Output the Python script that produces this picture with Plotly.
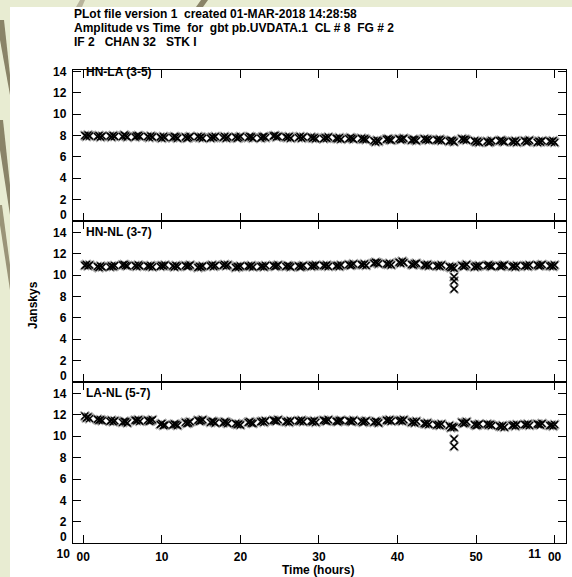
import plotly.graph_objects as go

# ---------------- data ----------------
SCAN_START = [0.2, 1.8, 3.4, 5.0, 6.6, 8.2, 9.8, 11.4, 13.0, 14.6, 16.2, 17.8, 19.4,
              21.0, 22.6, 24.2, 25.8, 27.4, 29.0, 30.6, 32.2, 33.8, 35.4, 37.0, 38.6,
              40.2, 41.8, 43.4, 45.0, 46.6, 48.2, 49.8, 51.4, 53.0, 54.6, 56.2, 57.8, 59.4]
SAMPLE_OFFSETS = [0.0, 0.2, 0.4, 0.6]

HN_LA = [(8.0, 7.9, 8.05, 7.95), (7.9, 8.0, 7.85, 7.95), (7.95, 7.85, 8.0, 7.9), (7.9, 8.05, 7.95, 7.85),
         (7.85, 7.95, 8.0, 7.9), (7.9, 7.8, 7.95, 7.85), (7.85, 7.75, 7.9, 7.8), (7.8, 7.9, 7.85, 7.75),
         (7.85, 7.75, 7.8, 7.9), (7.9, 7.8, 7.85, 7.75), (7.75, 7.85, 7.8, 7.9), (7.8, 7.9, 7.75, 7.85),
         (7.85, 7.75, 7.8, 7.9), (7.8, 7.9, 7.85, 7.75), (7.75, 7.85, 7.9, 7.8), (7.95, 8.0, 7.85, 7.9),
         (7.85, 7.8, 7.9, 7.75), (7.8, 7.9, 7.75, 7.85), (7.85, 7.75, 7.8, 7.7), (7.7, 7.8, 7.75, 7.85),
         (7.75, 7.7, 7.8, 7.65), (7.7, 7.8, 7.75, 7.65), (7.75, 7.65, 7.7, 7.6), (7.5, 7.4, 7.55, 7.45),
         (7.65, 7.7, 7.6, 7.55), (7.7, 7.6, 7.65, 7.75), (7.55, 7.65, 7.6, 7.5), (7.7, 7.6, 7.65, 7.55),
         (7.6, 7.55, 7.65, 7.5), (7.45, 7.55, 7.5, 7.4), (7.7, 7.6, 7.65, 7.55), (7.5, 7.4, 7.45, 7.35),
         (7.45, 7.35, 7.4, 7.5), (7.5, 7.55, 7.45, 7.4), (7.45, 7.4, 7.5, 7.35), (7.5, 7.4, 7.45, 7.55),
         (7.35, 7.45, 7.4, 7.5), (7.45, 7.4, 7.5, 7.35)]

HN_NL = [(10.9, 11.0, 10.85, 10.95), (10.8, 10.7, 10.85, 10.75), (10.75, 10.85, 10.8, 10.9), (10.95, 11.0, 10.9, 10.85),
         (10.9, 10.8, 10.95, 10.85), (10.85, 10.8, 10.9, 10.75), (10.8, 10.9, 10.85, 10.95), (10.85, 10.75, 10.9, 10.8),
         (10.9, 10.8, 10.85, 10.95), (10.7, 10.8, 10.75, 10.85), (10.85, 10.95, 10.8, 10.9), (10.9, 11.0, 10.85, 10.95),
         (10.7, 10.8, 10.75, 10.85), (10.85, 10.8, 10.9, 10.75), (10.8, 10.85, 10.75, 10.9), (10.9, 10.8, 10.85, 10.95),
         (10.8, 10.9, 10.85, 10.75), (10.85, 10.75, 10.8, 10.9), (10.8, 10.9, 10.85, 10.95), (10.9, 10.85, 10.95, 10.8),
         (10.85, 10.9, 10.8, 10.95), (11.0, 10.9, 10.95, 11.05), (11.0, 10.95, 11.05, 10.9), (11.1, 11.2, 11.15, 11.05),
         (11.05, 11.0, 11.1, 10.95), (11.2, 11.1, 11.3, 11.15), (11.0, 10.95, 11.05, 11.1), (10.95, 10.9, 11.0, 10.85),
         (10.85, 10.9, 10.8, 10.95), (10.8, 10.7, 10.75, 10.65), (10.9, 10.8, 10.85, 11.0), (10.75, 10.85, 10.8, 10.9),
         (10.9, 10.95, 10.85, 10.8), (10.85, 10.8, 10.9, 10.95), (10.8, 10.85, 10.75, 10.9), (10.85, 10.9, 10.8, 10.95),
         (10.95, 10.85, 10.9, 11.0), (10.85, 10.9, 10.8, 10.95)]
HN_NL_OUT_T = [47.2, 47.2, 47.2]
HN_NL_OUT_V = [9.85, 9.45, 8.7]

LA_NL = [(11.9, 11.7, 11.8, 11.65), (11.6, 11.5, 11.55, 11.45), (11.4, 11.5, 11.35, 11.45), (11.3, 11.4, 11.35, 11.25),
         (11.5, 11.45, 11.55, 11.4), (11.5, 11.4, 11.45, 11.55), (11.1, 11.2, 11.0, 11.05), (11.05, 11.15, 11.1, 11.0),
         (11.3, 11.2, 11.25, 11.35), (11.5, 11.4, 11.45, 11.55), (11.3, 11.4, 11.35, 11.25), (11.25, 11.35, 11.3, 11.2),
         (11.2, 11.1, 11.15, 11.05), (11.3, 11.35, 11.25, 11.2), (11.35, 11.4, 11.3, 11.45), (11.5, 11.45, 11.4, 11.55),
         (11.35, 11.4, 11.3, 11.45), (11.45, 11.4, 11.5, 11.35), (11.4, 11.35, 11.45, 11.3), (11.5, 11.45, 11.4, 11.55),
         (11.4, 11.35, 11.45, 11.5), (11.45, 11.4, 11.35, 11.5), (11.4, 11.3, 11.35, 11.45), (11.3, 11.4, 11.35, 11.25),
         (11.5, 11.45, 11.55, 11.4), (11.45, 11.5, 11.4, 11.55), (11.3, 11.35, 11.25, 11.4), (11.2, 11.15, 11.25, 11.1),
         (11.05, 11.1, 11.0, 11.15), (11.0, 10.8, 10.9, 10.85), (11.3, 11.2, 11.25, 11.35), (11.1, 11.0, 11.05, 11.15),
         (11.15, 11.05, 11.1, 11.0), (10.95, 10.9, 11.0, 10.85), (11.0, 11.05, 10.95, 11.1), (11.1, 11.05, 11.15, 11.0),
         (11.15, 11.1, 11.05, 11.2), (11.0, 11.05, 10.95, 11.1)]
LA_NL_OUT_T = [47.2, 47.2]
LA_NL_OUT_V = [9.75, 9.05]

PANEL_LABELS = ["HN-LA (3-5)", "HN-NL (3-7)", "LA-NL (5-7)"]
X_TICKVALS = [0, 10, 20, 30, 40, 50, 60]
X_TICKTEXT = ["00", "10", "20", "30", "40", "50", "00"]
HOUR_TICKVALS = [0, 60]
HOUR_TICKTEXT = ["10", "11"]
Y_TICKVALS = [0, 2, 4, 6, 8, 10, 12, 14]
X_TITLE = "Time (hours)"
Y_TITLE = "Janskys"
TITLE_LINES = ["PLot file version 1  created 01-MAR-2018 14:28:58",
               "Amplitude vs Time  for  gbt pb.UVDATA.1  CL # 8  FG # 2",
               "IF 2   CHAN 32   STK I"]

# ---------------- layout helpers ----------------
W, H = 572, 577
def px(x): return x / W
def py(y): return 1 - y / H

FONT = "Liberation Sans, Arial, Helvetica, sans-serif"
BOLD12 = dict(family=FONT, size=12, weight="bold", color="black")
XRANGE = [-1.31, 61.45]

def expand(panel):
    xs, ys = [], []
    for t0, vals in zip(SCAN_START, panel):
        for off, v in zip(SAMPLE_OFFSETS, vals):
            xs.append(t0 + off)
            ys.append(v)
    return xs, ys

fig = go.Figure()
panels = [(HN_LA, [], []), (HN_NL, HN_NL_OUT_T, HN_NL_OUT_V), (LA_NL, LA_NL_OUT_T, LA_NL_OUT_V)]
for i, (pdata, ot, ov) in enumerate(panels):
    xs, ys = expand(pdata)
    xs = xs + ot
    ys = ys + ov
    sfx = "" if i == 0 else str(i + 1)
    fig.add_trace(go.Scatter(
        x=xs, y=ys, mode="markers", xaxis="x" + sfx, yaxis="y" + sfx,
        marker=dict(symbol="x-thin", size=9, color="rgb(150,150,150)",
                    line=dict(width=2.2, color="rgba(150,150,150,0.8)")),
        hoverinfo="skip", showlegend=False))
    fig.add_trace(go.Scatter(
        x=xs, y=ys, mode="markers", xaxis="x" + sfx, yaxis="y" + sfx,
        marker=dict(symbol="x-thin", size=7, color="black",
                    line=dict(width=1.4, color="black")),
        showlegend=False))

# invisible trace carrying the hour-prefix axis
fig.add_trace(go.Scatter(x=HOUR_TICKVALS, y=[None, None], xaxis="x4", yaxis="y3",
                         mode="markers", hoverinfo="skip", showlegend=False))

# panel geometry (pixels)
panel_px = [(70, 220.7, 14.15), (220.7, 381.7, 15.1), (381.7, 543.3, 15.1)]
xdom = [px(73), px(566)]
layout = dict(
    width=W, height=H, margin=dict(l=0, r=0, t=0, b=0, autoexpand=False),
    paper_bgcolor="#e8ecd2", plot_bgcolor="white", showlegend=False,
    font=dict(family=FONT, size=12, color="black"),
)
annotations = []
for i, (top, bot, ymax) in enumerate(panel_px):
    sfx = "" if i == 0 else str(i + 1)
    last = i == 2
    layout["xaxis" + sfx] = dict(
        domain=xdom, anchor="y" + sfx, range=XRANGE, automargin=False,
        tickvals=X_TICKVALS, ticktext=X_TICKTEXT, showticklabels=last,
        ticks="inside", ticklen=8, tickwidth=1, tickcolor="black",
        showline=True, linewidth=1.3, linecolor="black", mirror="ticks",
        showgrid=False, zeroline=False, tickfont=BOLD12, ticklabelstandoff=2,
    )
    # each panel's "0" label sits just above its lower boundary (drawn as annotation)
    layout["yaxis" + sfx] = dict(
        domain=[py(bot), py(top)], anchor="x" + sfx, range=[0, ymax], automargin=False,
        tickvals=Y_TICKVALS[1:], ticks="inside", ticklen=8, tickwidth=1, tickcolor="black",
        showline=True, linewidth=1.3, linecolor="black", mirror="ticks",
        showgrid=False, zeroline=False, tickfont=BOLD12, ticklabelstandoff=3,
    )
    annotations.append(dict(
        text=str(Y_TICKVALS[0]), xref="paper", yref="y" + sfx, x=px(69), y=Y_TICKVALS[0],
        xanchor="right", yanchor="bottom", yshift=-3, showarrow=False, font=BOLD12))
    annotations.append(dict(
        text=PANEL_LABELS[i], xref="x" + sfx, yref="y" + sfx, x=0.1, y=14,
        xanchor="left", yanchor="middle", showarrow=False, font=BOLD12))

# hour prefix labels ("10 00", "11 00")
layout["xaxis4"] = dict(
    domain=xdom, anchor="y3", overlaying="x3", side="bottom", range=XRANGE,
    automargin=False, tickvals=HOUR_TICKVALS, ticktext=HOUR_TICKTEXT, ticks="",
    showline=False, showgrid=False, zeroline=False, tickfont=BOLD12,
    ticklabelstandoff=2, ticklabelshift=-20,
)

for j, line in enumerate(TITLE_LINES):
    annotations.append(dict(
        text=line, xref="paper", yref="paper", x=px(72), y=py(14 + 14 * j),
        xanchor="left", yanchor="middle", showarrow=False, font=BOLD12))

annotations.append(dict(
    text=X_TITLE, xref="paper", yref="paper", x=px(318), y=0,
    xanchor="center", yanchor="bottom", yshift=-1, borderpad=0,
    showarrow=False, font=BOLD12))
annotations.append(dict(
    text=Y_TITLE, xref="paper", yref="paper", x=px(33), y=py(305),
    xanchor="center", yanchor="middle", textangle=-90, showarrow=False, font=BOLD12))

layout["annotations"] = annotations

shapes = [
    dict(type="rect", xref="paper", yref="paper", x0=px(10), x1=1, y0=0, y1=py(7),
         fillcolor="white", line=dict(width=0), layer="below"),
    # decorative background strokes
    dict(type="path", xref="paper", yref="paper",
         path=f"M {px(0)},{py(20)} L {px(4)},{py(20)} L {px(10)},{py(75)} L {px(10)},{py(95)} L {px(0)},{py(40)} Z",
         fillcolor="#8a8468", line=dict(width=0), layer="below"),
    dict(type="path", xref="paper", yref="paper",
         path=f"M {px(0)},{py(120)} L {px(3)},{py(120)} L {px(10)},{py(185)} L {px(10)},{py(215)} L {px(0)},{py(150)} Z",
         fillcolor="#8a8468", line=dict(width=0), layer="below"),
    dict(type="path", xref="paper", yref="paper",
         path=f"M {px(0)},{py(205)} L {px(2)},{py(205)} L {px(10)},{py(265)} L {px(10)},{py(290)} L {px(0)},{py(225)} Z",
         fillcolor="#9a9478", line=dict(width=0), layer="below"),
    dict(type="path", xref="paper", yref="paper",
         path=f"M {px(196)},{py(7)} L {px(201)},{py(0)} L {px(208)},{py(0)} L {px(203)},{py(7)} Z",
         fillcolor="#8a8468", line=dict(width=0), layer="below"),
    dict(type="path", xref="paper", yref="paper",
         path=f"M {px(76)},{py(7)} L {px(80)},{py(0)} L {px(85)},{py(0)} L {px(82)},{py(7)} Z",
         fillcolor="#b8b49c", line=dict(width=0), layer="below"),
]
layout["shapes"] = shapes

fig.update_layout(**layout)
fig.write_html("out.html")
